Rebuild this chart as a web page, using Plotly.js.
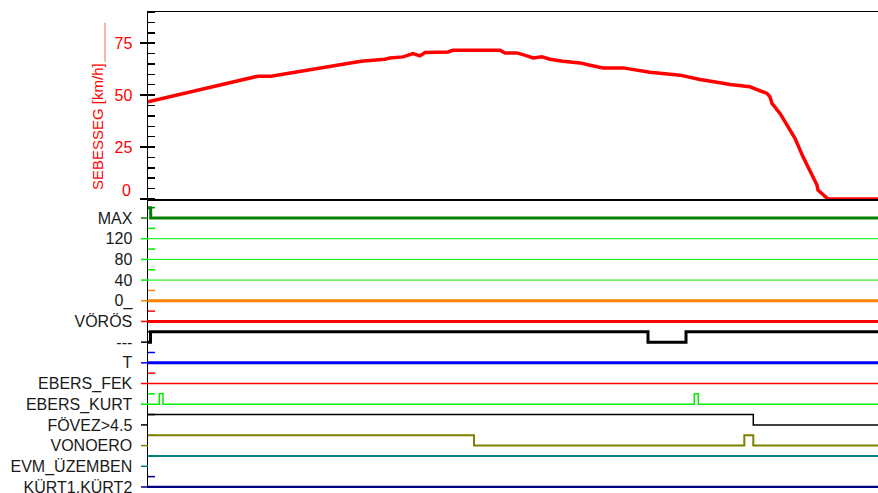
<!DOCTYPE html>
<html>
<head>
<meta charset="utf-8">
<script src="https://cdn.plot.ly/plotly-3.0.1.min.js"></script>
<style>html,body{margin:0;padding:0;background:#fff;}#chart{width:878px;height:493px;}</style>
</head>
<body>
<div id="chart"></div>
<script>
// ---- speed (top panel) ----
var speedT = [0,10,33,50,77,100,110,123,143,167,193,213,237,242,255,265,272,277,300,305,325,352,357,369,379,385,394,402,415,432,442,455,475,489,502,532,552,572,582,602,612,619,622,624,632,639,647,655,664,669,670,677,680,730];
var speedV = [46.8,47.9,50.8,52.7,55.6,58.0,59.1,59.1,60.7,62.8,64.7,66.3,67.3,67.9,68.4,70.0,68.9,70.5,70.8,71.6,71.6,71.6,70.3,70.3,68.9,67.9,68.4,67.3,66.3,65.5,64.4,63.1,63.1,62.2,61.0,59.6,57.5,55.9,55.1,54.0,52.1,50.8,49.2,46.0,41.2,35.6,29.2,20.3,11.5,6.7,4.3,1.1,0,0];
var speedTicks = [0,25,50,75];
var speedTickText = ['','25','50','75'];

// ---- digital channels (lower panel), bottom to top ----
var chLabels = ['KÜRT1,KÜRT2','EVM_ÜZEMBEN','VONOERO','FÖVEZ>4.5','EBERS_KURT','EBERS_FEK','T','---','VÖRÖS','0_','40','80','120','MAX'];
var chColors = ['#000080','#008080','#808000','#000000','#00ee00','#ff0000','#0000ff','#000000','#ff0000','#ff8000','#00ee00','#00ee00','#00ee00','#008000'];
var chWidths = [2.5,2,2,1.5,1.5,1.5,3,3,3,3,1,1,1,3];
var chT = [
  [0,730],
  [0,730],
  [0,326,596.3,605.3,730],
  [0,605.3,730],
  [0,11.3,15,546.3,550.3,730],
  [0,730],
  [0,730],
  [0,2.5,500,538,730],
  [0,730],
  [0,730],
  [0,730],
  [0,730],
  [0,730],
  [0,2.7,730]
];
var chState = [
  [0,0],
  [1,1],
  [1,0,1,0,0],
  [1,0,0],
  [0,1,0,1,0,0],
  [0,0],
  [0,0],
  [0,1,0,1,1],
  [0,0],
  [0,0],
  [0,0],
  [0,0],
  [0,0],
  [1,0,0]
];

var traces = [];
for (var i = 0; i < chLabels.length; i++) {
  traces.push({
    x: chT[i],
    y: chState[i].map(function(s){ return i + 0.5 * s; }),
    type: 'scatter', mode: 'lines',
    line: {shape: 'hv', color: chColors[i], width: chWidths[i]},
    xaxis: 'x', yaxis: 'y', hoverinfo: 'skip', showlegend: false
  });
}
traces.push({
  x: speedT, y: speedV, type: 'scatter', mode: 'lines',
  line: {color: '#ff0000', width: 3.5},
  xaxis: 'x2', yaxis: 'y2', showlegend: false
});

var plotW = 730, plotH = 476;
var shapes = [];
for (var j = 0; j < chLabels.length; j++) {
  shapes.push({type:'line', xref:'paper', yref:'y', x0:-7/plotW, x1:0, y0:j, y1:j, line:{color:chColors[j], width:1.5}});
  shapes.push({type:'line', xref:'paper', yref:'y', x0:0, x1:7/plotW, y0:j+0.5, y1:j+0.5, line:{color:chColors[j], width:1.5}});
}
// swatch next to the speed axis title
shapes.push({type:'line', xref:'paper', yref:'paper', x0:(105-148)/plotW, x1:(105-148)/plotW, y0:(488-22.7)/plotH, y1:(488-61.7)/plotH, line:{color:'#f0a080', width:1.5}});

var fontFam = '"Liberation Sans", Arial, sans-serif';
var split = (488-199)/plotH;

var layout = {
  width: 878, height: 493,
  margin: {l:148, r:0, t:12, b:5, pad:0},
  paper_bgcolor: '#ffffff', plot_bgcolor: '#ffffff',
  showlegend: false,
  font: {family: fontFam, size: 16, color: '#1a1a1a'},
  xaxis: {domain:[0,1], anchor:'y', range:[0,730], showgrid:false, zeroline:false, showline:false, showticklabels:false, ticks:''},
  xaxis2: {domain:[0,1], anchor:'y2', matches:'x', range:[0,730], showgrid:false, zeroline:false, showline:true, mirror:true, linecolor:'#000', linewidth:1.5, showticklabels:false, ticks:''},
  yaxis: {domain:[0,split], anchor:'x', range:[-0.05,13.92], showgrid:false, zeroline:false,
    showline:true, linecolor:'#000', linewidth:1.5,
    tickmode:'array', tickvals: chLabels.map(function(_,k){return k;}), ticktext: chLabels,
    ticks:'outside', ticklen:7, tickcolor:'rgba(0,0,0,0)', ticklabelstandoff:4, ticklabeloverflow:'allow',
    tickfont:{family:fontFam, size:16, color:'#1a1a1a'}},
  yaxis2: {domain:[split,1], anchor:'x2', range:[0,90], showgrid:false, zeroline:false,
    showline:true, linecolor:'#000', linewidth:1.5,
    tickmode:'array', tickvals: speedTicks, ticktext: speedTickText,
    ticks:'outside', ticklen:7, tickcolor:'#000', tickwidth:1.5, ticklabelstandoff:4, ticklabeloverflow:'allow',
    minor:{ticks:'inside', ticklen:7, dtick:5, tick0:0, tickcolor:'#000', tickwidth:1.5},
    tickfont:{family:fontFam, size:16, color:'#ff0000'}},
  shapes: shapes,
  annotations: [
    {text:'0', xref:'paper', yref:'y2', x:(133-148)/plotW, y:0, yshift:9, xanchor:'right', yanchor:'middle', showarrow:false, font:{family:fontFam, size:16, color:'#ff0000'}},
    {text:'SEBESSEG [km/h]', xref:'paper', yref:'paper', x:(97.5-148)/plotW, y:(488-126.5)/plotH, textangle:-90, xanchor:'center', yanchor:'middle', showarrow:false, font:{family:fontFam, size:15, color:'#ff0000'}}
  ]
};

Plotly.newPlot('chart', traces, layout, {displayModeBar:false, staticPlot:true});
</script>
</body>
</html>
